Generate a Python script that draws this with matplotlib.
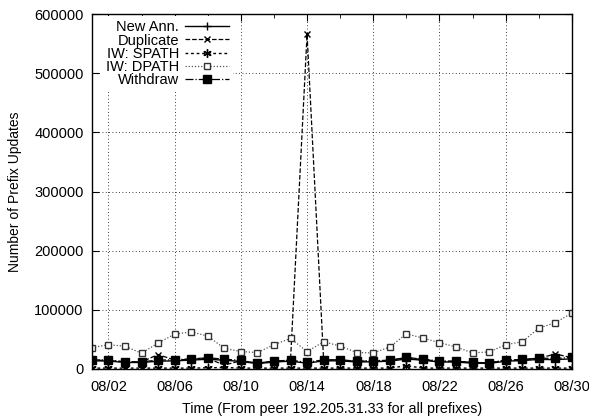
import matplotlib

matplotlib.use("Agg")
import matplotlib.pyplot as plt  # noqa: E402
from matplotlib.ticker import FixedLocator  # noqa: E402

plt.rcParams["font.family"] = ["Liberation Sans", "DejaVu Sans"]

# day of month (August), one sample per day
days = list(range(1, 31))
tick_days = [2, 6, 10, 14, 18, 22, 26, 30]
tick_labels = [f"08/{d:02d}" for d in tick_days]
minor_days = [4, 8, 12, 16, 20, 24, 28]

withdraw = [15600, 15000, 12200, 12200, 15000, 15600, 17200, 18900, 16700, 14500,
            10000, 13300, 15000, 11100, 15600, 15600, 13300, 13900, 15000, 19500,
            16700, 13300, 13300, 11100, 10600, 15000, 16100, 18400, 17800, 19500]
new_ann = [13800, 13500, 11000, 11000, 13200, 13800, 15000, 16500, 14800, 12800,
           9000, 11800, 13200, 9800, 13800, 13800, 11800, 12200, 13200, 17000,
           14800, 11800, 11800, 9800, 9400, 13200, 14200, 16200, 15800, 17200]
duplicate = [15000, 14500, 12000, 12000, 24500, 15000, 16500, 18000, 6500, 14000,
             10000, 13000, 15000, 566000, 15000, 15000, 13000, 13500, 14500, 19000,
             16000, 13000, 13000, 11000, 10500, 14500, 15500, 18000, 25500, 19000]
spath = [1500, 1500, 1500, 1500, 1500, 1500, 1500, 2000, 2500, 1500,
         1500, 1500, 1500, 1500, 1500, 1500, 1500, 1500, 1500, 5500,
         1500, 1500, 1500, 1500, 1500, 1500, 1500, 1500, 1500, 1500]
dpath = [36100, 41100, 38400, 26700, 43900, 58900, 62800, 55600, 35000, 29500,
         27800, 41100, 51700, 29500, 46000, 38900, 27800, 27200, 37200, 59500,
         52200, 44500, 37200, 27200, 28900, 41100, 46100, 69000, 78400, 94500]

fig = plt.figure(figsize=(5.89, 4.16), dpi=100)
ax = fig.add_axes([0.156, 0.113, 0.815, 0.853])

ax.plot(days, new_ann, "-", color="black", lw=1.0, marker="+", ms=6, mew=1.0,
        label="New Ann.")
ax.plot(days, duplicate, "--", color="black", lw=0.9, marker="x", ms=5, mew=1.0,
        label="Duplicate")
ax.plot(days, spath, color="black", lw=1.0, ls=(0, (2, 2)), marker=(6, 2, 0),
        ms=6, mew=1.0, label="IW: SPATH")
ax.plot(days, dpath, color="#555555", lw=0.9, ls=(0, (1, 1.5)), marker="s", ms=5,
        mfc="white", mec="#333333", mew=1.0, label="IW: DPATH")
ax.plot(days, withdraw, "-.", color="black", lw=0.9, marker="s", ms=5.5,
        mfc="black", mec="black", label="Withdraw")

ax.set_xlim(1, 30)
ax.set_ylim(0, 600000)
ax.set_xticks(tick_days)
ax.set_xticklabels(tick_labels)
ax.xaxis.set_minor_locator(FixedLocator(minor_days))
ax.set_yticks(range(0, 600001, 100000))
ax.grid(True, which="major", color="black", lw=0.6, ls=(0, (1, 3)))
ax.tick_params(which="both", direction="in", top=True, right=True, labelsize=10.5)
ax.tick_params(axis="x", pad=8)
ax.tick_params(axis="y", pad=6)
ax.tick_params(which="major", length=5)
ax.tick_params(which="minor", length=3)
for s in ax.spines.values():
    s.set_linewidth(1.0)

ax.set_xlabel("Time (From peer 192.205.31.33 for all prefixes)", fontsize=10.3,
              labelpad=6)
ax.set_ylabel("Number of Prefix Updates", fontsize=10, labelpad=9)

leg = ax.legend(loc="upper left", markerfirst=False, frameon=True, fancybox=False,
                edgecolor="none", facecolor="white", framealpha=1.0, fontsize=10.5,
                handlelength=3.0, handletextpad=0.4, labelspacing=-0.05,
                borderpad=0.3, borderaxespad=0.0, bbox_to_anchor=(0.02, 0.995))
for t in leg.get_texts():
    t.set_ha("right")
leg._legend_box.align = "right"

fig.savefig("out.png", dpi=100)
